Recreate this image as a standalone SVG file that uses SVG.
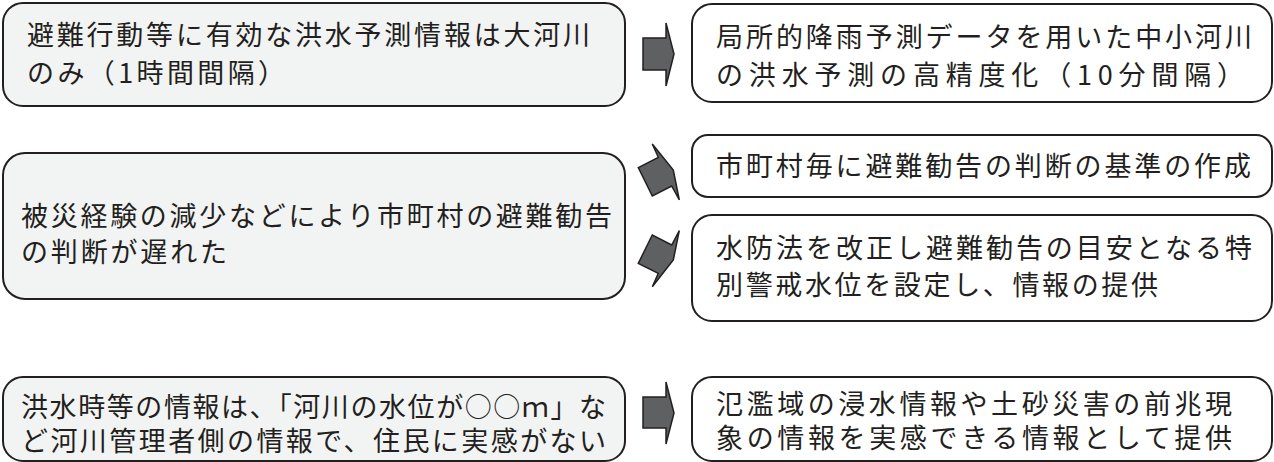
<svg xmlns="http://www.w3.org/2000/svg" width="1274" height="462" viewBox="0 0 1274 462">
<style>
.cause{fill:#f2f3f3;stroke:#231f20;stroke-width:2}
.measure{fill:#ffffff;stroke:#231f20;stroke-width:2}
.arrow{fill:#5f6062;stroke:#231f20;stroke-width:1.5;stroke-linejoin:miter}
text{font-family:"Noto Sans CJK JP","Noto Sans CJK SC",sans-serif;font-size:27px;fill:#231f20}
</style>
<rect width="1274" height="462" fill="#ffffff"/>
<g id="cause1">
<rect class="cause" x="3" y="3" width="622" height="103" rx="20"/>
<text x="27" y="45" textLength="563" lengthAdjust="spacing">避難行動等に有効な洪水予測情報は大河川</text>
<text x="27" y="83" textLength="258" lengthAdjust="spacing">のみ（1時間間隔）</text>
</g>
<g id="measure1">
<rect class="measure" x="692" y="4" width="580" height="98" rx="20"/>
<text x="716" y="47" textLength="536" lengthAdjust="spacing">局所的降雨予測データを用いた中小河川</text>
<text x="716" y="85" textLength="528" lengthAdjust="spacing">の洪水予測の高精度化（10分間隔）</text>
</g>
<g id="cause2">
<rect class="cause" x="3" y="153" width="622" height="146" rx="22"/>
<text x="21" y="226" textLength="591" lengthAdjust="spacing">被災経験の減少などにより市町村の避難勧告</text>
<text x="21" y="262" textLength="206" lengthAdjust="spacing">の判断が遅れた</text>
</g>
<g id="measure2">
<rect class="measure" x="692" y="135" width="580" height="62" rx="16"/>
<text x="716" y="176" textLength="535" lengthAdjust="spacing">市町村毎に避難勧告の判断の基準の作成</text>
</g>
<g id="measure3">
<rect class="measure" x="692" y="215" width="580" height="106" rx="20"/>
<text x="716" y="258" textLength="536" lengthAdjust="spacing">水防法を改正し避難勧告の目安となる特</text>
<text x="716" y="295" textLength="442" lengthAdjust="spacing">別警戒水位を設定し、情報の提供</text>
</g>
<g id="cause3">
<rect class="cause" x="3" y="377" width="622" height="84" rx="20"/>
<text x="21" y="417" textLength="585" lengthAdjust="spacing">洪水時等の情報は、「河川の水位が○○ｍ」な</text>
<text x="21" y="451" textLength="585" lengthAdjust="spacing">ど河川管理者側の情報で、住民に実感がない</text>
</g>
<g id="measure4">
<rect class="measure" x="692" y="377" width="580" height="84" rx="20"/>
<text x="716" y="414" textLength="516" lengthAdjust="spacing">氾濫域の浸水情報や土砂災害の前兆現</text>
<text x="716" y="448" textLength="516" lengthAdjust="spacing">象の情報を実感できる情報として提供</text>
</g>
<g id="connectors">
<polygon class="arrow" points="643,38 666,38 666,23 674,54 666,86 666,70 643,70"/>
<polygon class="arrow" points="638.3,167.7 658.3,157.3 652.3,144 673.3,170 679.3,200 671.7,186 652.3,196"/>
<polygon class="arrow" points="638.3,263.3 652.3,235 671.7,245 679.3,230.7 673.3,260 652.3,286.7 658.3,273.3"/>
<polygon class="arrow" points="643,397 666,397 666,382 674,413 666,444 666,428 643,428"/>
</g>
</svg>
